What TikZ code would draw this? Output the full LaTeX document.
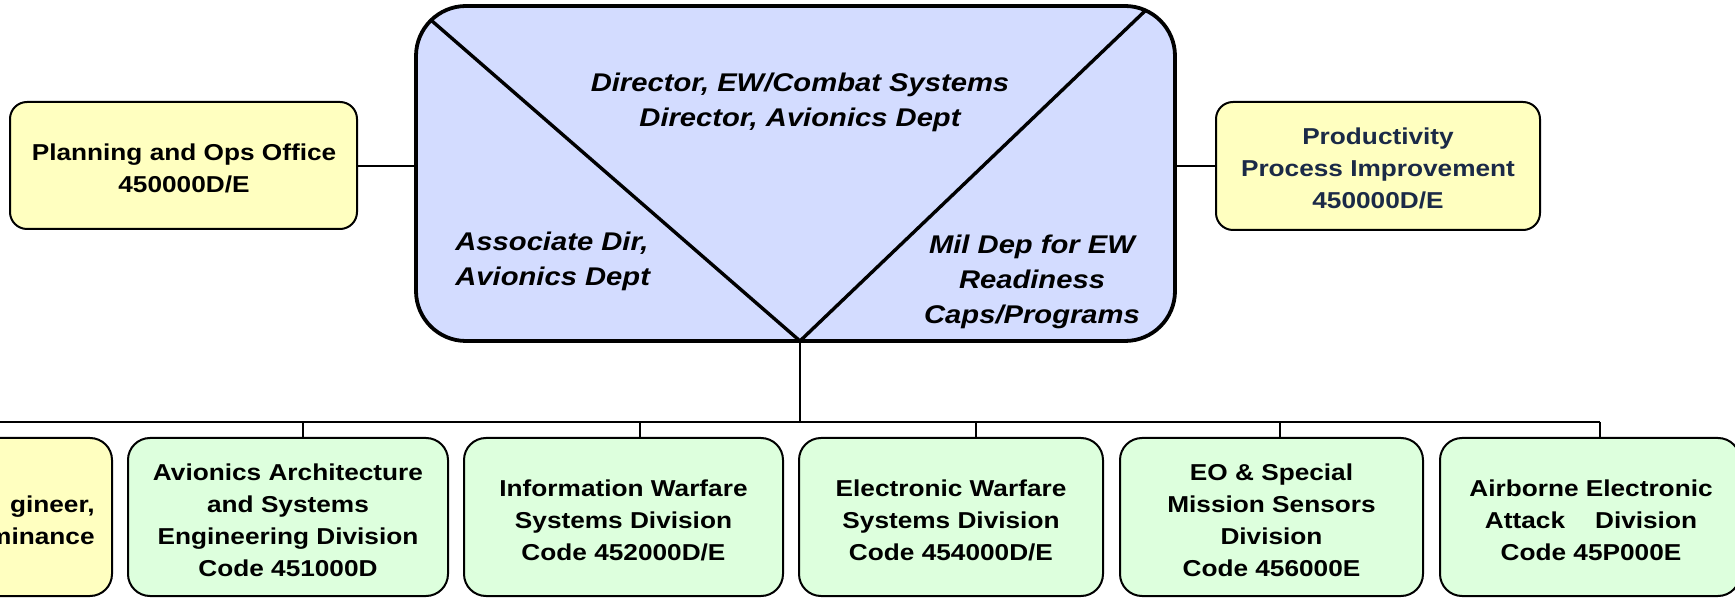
\documentclass[tikz,border=0pt]{standalone}
\usepackage{fontspec}
\newfontfamily\bfont{Liberation Sans}[FakeStretch=1.14]
\definecolor{yfill}{HTML}{FFFFC0}
\definecolor{gfill}{HTML}{DDFFDD}
\definecolor{bfill}{HTML}{D3DCFF}
\definecolor{navy}{HTML}{1B2A47}
\tikzset{
  smalltext/.style={font=\bfont\bfseries\fontsize{11.5}{16}\selectfont, align=center, inner sep=0pt},
  maintext/.style={font=\bfont\bfseries\itshape\fontsize{12.8}{17.4}\selectfont, inner sep=0pt},
  orgbox/.style={draw=black, line width=1pt, rounded corners=11pt, inner sep=0pt,
                 minimum height=79pt},
  greenbox/.style={orgbox, fill=gfill},
  yellowbox/.style={orgbox, fill=yfill},
  topbox/.style={draw=black, line width=1pt, rounded corners=8.5pt, inner sep=0pt, fill=yfill},
  link/.style={draw=black, line width=1pt},
  vline/.style={draw=black, line width=1.7pt}
}
\begin{document}
\begin{tikzpicture}[x=0.5pt,y=-0.5pt]
\useasboundingbox (0,0) rectangle (1735,598);
\clip (0,0) rectangle (1735,598);
\fill[white] (0,0) rectangle (1735,598);

% main box
\node[draw=black, line width=1.9pt, rounded corners=25pt, fill=bfill, inner sep=0pt,
      minimum width=379.5pt, minimum height=167.5pt] (main) at (795.5,173.5) {};
\coordinate (tl) at (432,21);
\coordinate (tr) at (1146,10);
\coordinate (v) at (800,341);
\draw[vline] (tl) -- (v) -- (tr);
\node[maintext, align=center] (mtop) at (800,102) {Director, EW/Combat Systems\\Director, Avionics Dept};
\node[maintext, align=left, anchor=west] (mleft) at (455,261) {Associate Dir,\\Avionics Dept};
\node[maintext, align=center] (mright) at (1032,282) {Mil Dep for EW\\Readiness\\Caps/Programs};

% top side boxes
\node[topbox, minimum width=173.5pt, minimum height=63.5pt] (pl) at (183.5,165.5) {};
\node[smalltext] (plt) at (184,168.5) {Planning and Ops Office\\450000D/E};
\node[topbox, minimum width=162pt, minimum height=64pt] (pi) at (1378,166) {};
\node[smalltext, text=navy] (pit) at (1378,168) {Productivity\\Process Improvement\\450000D/E};
\draw[link] (pl.east |- 0,166) -- (main.west |- 0,166);
\draw[link] (main.east |- 0,166) -- (pi.west |- 0,166);

% bottom boxes
\node[yellowbox, minimum width=146pt] (p) at (-34,517) {};
\node[smalltext, align=right, anchor=east] (pt) at (95,520) {gineer,\\minance};
\node[greenbox, minimum width=160pt] (a) at (288,517) {};
\node[smalltext] (at) at (288,520) {Avionics Architecture\\and Systems\\Engineering Division\\Code 451000D};
\node[greenbox, minimum width=159.5pt] (i) at (623.5,517) {};
\node[smalltext] (it) at (623.5,520) {Information Warfare\\Systems Division\\Code 452000D/E};
\node[greenbox, minimum width=152pt] (e) at (951,517) {};
\node[smalltext] (et) at (951,520) {Electronic Warfare\\Systems Division\\Code 454000D/E};
\node[greenbox, minimum width=151.5pt] (o) at (1271.5,517) {};
\node[smalltext] (ot) at (1271.5,520) {EO \& Special\\Mission Sensors\\Division\\Code 456000E};
\node[greenbox, minimum width=150pt] (b) at (1590,517) {};
\node[smalltext] (bt) at (1591,520) {Airborne Electronic\\Attack\hspace{15pt}Division\\Code 45P000E};

% bus
\coordinate (busL) at (0,422);
\coordinate (busR) at (1600,422);
\coordinate (vb) at (800,422);
\draw[link] (v) -- (vb);
\draw[link] (busL) -- (busR);
\coordinate (ja) at (303,422);
\coordinate (ji) at (640,422);
\coordinate (je) at (976,422);
\coordinate (jo) at (1280,422);
\draw[link] (ja) -- (ja |- a.north);
\draw[link] (ji) -- (ji |- i.north);
\draw[link] (je) -- (je |- e.north);
\draw[link] (jo) -- (jo |- o.north);
\draw[link] (busR) -- (busR |- b.north);
\end{tikzpicture}
\end{document}
